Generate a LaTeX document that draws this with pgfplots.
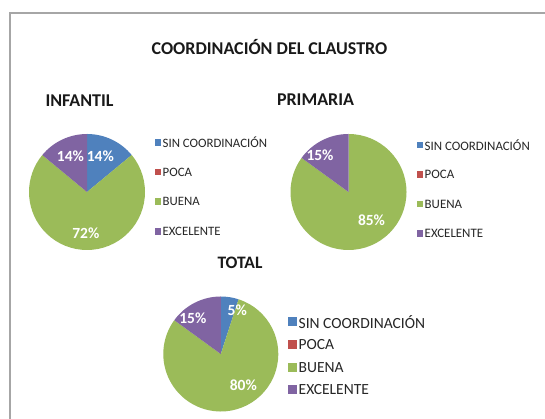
\documentclass[border=0pt]{standalone}
\usepackage{pgfplots}
\usepackage{pgfplotstable}
\pgfplotsset{compat=1.18}
\usepackage{fontspec}
\setmainfont{Carlito}

\definecolor{cblue}{HTML}{4F81BD}
\definecolor{cred}{HTML}{C0504D}
\definecolor{cgreen}{HTML}{9BBB59}
\definecolor{cpurple}{HTML}{8064A2}
\definecolor{frame}{HTML}{A6A6A6}

% category: 0 SIN COORDINACION, 1 POCA, 2 BUENA, 3 EXCELENTE
\pgfplotstableread{
cat value
0 14
1 0
2 72
3 14
}\infantil
\pgfplotstableread{
cat value
0 0
1 0
2 85
3 15
}\primaria
\pgfplotstableread{
cat value
0 5
1 0
2 80
3 15
}\total

\newcommand{\drawpie}[2]{% #1 table, #2 radius in pt
  \pgfplotsextra{%
    \xdef\cum{0}%
    \foreach \r/\col in {0/cblue,1/cred,2/cgreen,3/cpurple}{%
      \pgfplotstablegetelem{\r}{value}\of#1%
      \let\v\pgfplotsretval
      \pgfmathsetmacro\a{90-3.6*\cum}%
      \pgfmathsetmacro\b{90-3.6*(\cum+\v)}%
      \ifdim \v pt>0pt
        \fill[\col] (axis cs:0,0) -- (axis cs:{cos(\a)},{sin(\a)})
          arc[start angle=\a, end angle=\b, radius=#2pt] -- cycle;
      \fi
      \pgfmathsetmacro\c{\cum+\v}%
      \xdef\cum{\c}%
    }%
  }%
}

\newcommand{\pielegend}[5]{% #1 x square, #2 top row y, #3 spacing, #4 font size, #5 square size
  \foreach \i/\col/\txt in {0/cblue/SIN COORDINACIÓN,1/cred/POCA,2/cgreen/BUENA,3/cpurple/EXCELENTE}{%
    \pgfmathsetmacro\yy{419-(#2+\i*#3)}%
    \fill[\col] (#1,\yy-#5/2) rectangle ++(#5,#5);
    \node[anchor=west, inner sep=0pt, font=\fontsize{#4}{#4}\selectfont, text=black!85]
      at (#1+#5+1.5,\yy) {\txt};
  }%
}

\begin{document}
\begin{tikzpicture}[x=1pt,y=1pt]
\useasboundingbox (0,0) rectangle (545,419);
\fill[white] (0,0) rectangle (545,419);
\draw[frame, line width=1.5pt] (10,0) -- (10,406) -- (545,406);

\node[font=\fontsize{18}{18}\selectfont\bfseries, text=black!90] at (269.5,419-47.5) {COORDINACIÓN DEL CLAUSTRO};
\node[font=\fontsize{18}{18}\selectfont\bfseries, text=black!90] at (79.5,419-101) {INFANTIL};
\node[font=\fontsize{18}{18}\selectfont\bfseries, text=black!90] at (315.5,419-100) {PRIMARIA};
\node[font=\fontsize{17.5}{17.5}\selectfont\bfseries, text=black!90] at (240,419-263) {TOTAL};

% INFANTIL
\begin{axis}[at={(87pt,227pt)}, anchor=center, x=58pt, y=58pt,
  xmin=-1, xmax=1, ymin=-1, ymax=1, hide axis, clip=false]
  \drawpie{\infantil}{58}
  \node[text=white, font=\fontsize{15.5}{15.5}\selectfont\bfseries] at (axis cs:{13.3/58},{35.3/58}) {14\%};
  \node[text=white, font=\fontsize{15.5}{15.5}\selectfont\bfseries] at (axis cs:{-16.5/58},{35.3/58}) {14\%};
  \node[text=white, font=\fontsize{15.5}{15.5}\selectfont\bfseries] at (axis cs:{-1.2/58},{-41.3/58}) {72\%};
\end{axis}

% PRIMARIA
\begin{axis}[at={(348.5pt,227pt)}, anchor=center, x=58pt, y=58pt,
  xmin=-1, xmax=1, ymin=-1, ymax=1, hide axis, clip=false]
  \drawpie{\primaria}{58}
  \node[text=white, font=\fontsize{15.5}{15.5}\selectfont\bfseries] at (axis cs:{-28.5/58},{37/58}) {15\%};
  \node[text=white, font=\fontsize{15.5}{15.5}\selectfont\bfseries] at (axis cs:{23/58},{-28/58}) {85\%};
\end{axis}

% TOTAL
\begin{axis}[at={(220.8pt,65pt)}, anchor=center, x=57.5pt, y=57.5pt,
  xmin=-1, xmax=1, ymin=-1, ymax=1, hide axis, clip=false]
  \drawpie{\total}{57.5}
  \node[text=white, font=\fontsize{15.5}{15.5}\selectfont\bfseries] at (axis cs:{16.5/57.5},{44/57.5}) {5\%};
  \node[text=white, font=\fontsize{15.5}{15.5}\selectfont\bfseries] at (axis cs:{-28/57.5},{35.7/57.5}) {15\%};
  \node[text=white, font=\fontsize{15.5}{15.5}\selectfont\bfseries] at (axis cs:{22.5/57.5},{-31/57.5}) {80\%};
\end{axis}

\pielegend{154.5}{142.3}{29.7}{12.8}{6.5}
\pielegend{416.5}{145}{29.5}{12.9}{6.5}
\pielegend{288}{321.7}{22.7}{15.5}{9}
\end{tikzpicture}
\end{document}
